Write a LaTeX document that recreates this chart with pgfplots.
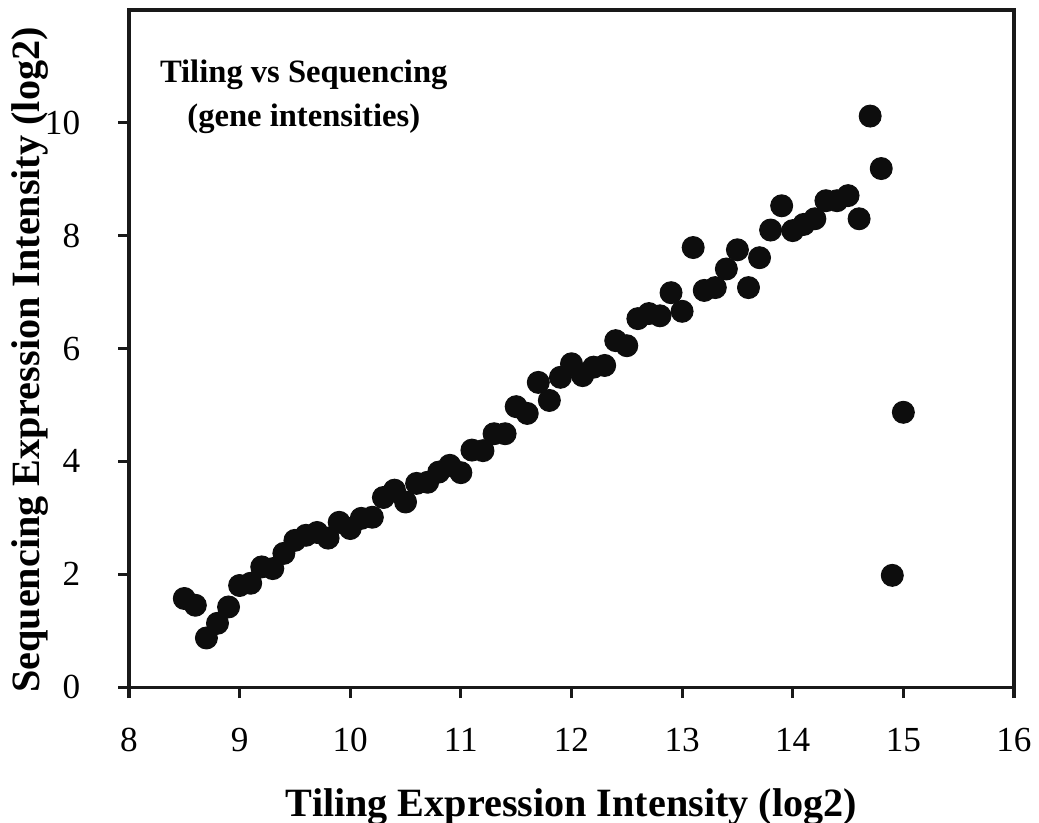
\documentclass[border=0pt]{standalone}
\usepackage{fontspec}
\setmainfont{Liberation Serif}
\usepackage{pgfplots}
\pgfplotsset{compat=1.18}

\begin{document}
\begin{tikzpicture}
\begin{axis}[
    scale only axis,
    width=11.925cm, height=9.123cm,
    xmin=8, xmax=16, ymin=0, ymax=12,
    xtick={8,9,...,16},
    ytick={0,2,4,6,8,10},
    xtick pos=bottom, ytick pos=left,
    tick align=outside,
    major tick length=4.2pt,
    axis line style={line width=1.2pt, black!90},
    every tick/.style={line width=1.2pt, black!90},
    /pgf/number format/assume math mode=true,
    ticklabel style={font=\fontsize{13.5}{16}\selectfont},
    xticklabel style={yshift=-8pt},
    yticklabel style={xshift=-11pt},
    xlabel={\textbf{Tiling Expression Intensity (log2)}},
    ylabel={\textbf{Sequencing Expression Intensity (log2)}},
    label style={font=\fontsize{15.4}{18}\selectfont},
    xlabel style={at={(rel axis cs:0.5,0)}, anchor=base, yshift=-1.75cm},
    ylabel style={at={(rel axis cs:0,0.483)}, anchor=base, yshift=1.2cm},
    clip=false,
]
\addplot[only marks, mark=*, mark size=4.2pt, color=black!95] coordinates {
    (8.5,1.57) (8.6,1.45) (8.7,0.87) (8.8,1.13) (8.9,1.42)
    (9.0,1.80) (9.1,1.84) (9.2,2.13) (9.3,2.10) (9.4,2.37)
    (9.5,2.60) (9.6,2.69) (9.7,2.74) (9.8,2.64) (9.9,2.92)
    (10.0,2.81) (10.1,2.99) (10.2,3.01) (10.3,3.36) (10.4,3.49)
    (10.5,3.28) (10.6,3.61) (10.7,3.63) (10.8,3.81) (10.9,3.93)
    (11.0,3.80) (11.1,4.20) (11.2,4.19) (11.3,4.49) (11.4,4.49)
    (11.5,4.97) (11.6,4.85) (11.7,5.40) (11.8,5.08) (11.9,5.49)
    (12.0,5.73) (12.1,5.52) (12.2,5.67) (12.3,5.70) (12.4,6.14)
    (12.5,6.05) (12.6,6.53) (12.7,6.62) (12.8,6.58) (12.9,6.99)
    (13.0,6.66) (13.1,7.79) (13.2,7.03) (13.3,7.08) (13.4,7.41)
    (13.5,7.75) (13.6,7.08) (13.7,7.61) (13.8,8.10) (13.9,8.53)
    (14.0,8.09) (14.1,8.20) (14.2,8.30) (14.3,8.62) (14.4,8.62)
    (14.5,8.71) (14.6,8.30) (14.7,10.12) (14.8,9.19) (14.9,1.98)
    (15.0,4.87)
};
\node[anchor=base, font=\fontsize{12.5}{15}\selectfont\bfseries] at (axis cs:9.58,10.71) {Tiling vs Sequencing};
\node[anchor=base, font=\fontsize{12.5}{15}\selectfont\bfseries] at (axis cs:9.58,9.93) {(gene intensities)};
\end{axis}
\pgfresetboundingbox
\path ([shift={(-1.738cm,-1.819cm)}]current axis.south west) rectangle ([shift={(0.337cm,0.135cm)}]current axis.north east);
\end{tikzpicture}
\end{document}
